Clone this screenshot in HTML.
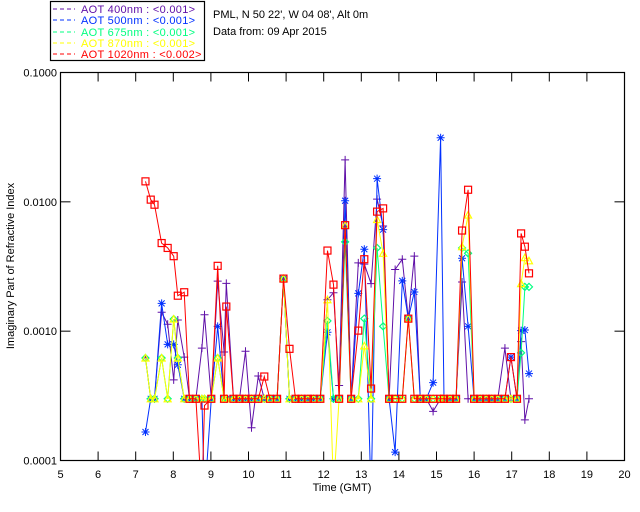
<!DOCTYPE html>
<html><head><meta charset="utf-8"><style>
html,body{margin:0;padding:0;background:#fff;}
svg{display:block;font-family:"Liberation Sans",sans-serif;}
</style></head><body>
<svg id="chart" width="640" height="512" viewBox="0 0 640 512" xmlns="http://www.w3.org/2000/svg">
<defs><clipPath id="plotclip"><rect x="60" y="72" width="565" height="388"/></clipPath></defs>
<rect x="0" y="0" width="640" height="512" fill="#fff"/>
<g>
<rect x="50.5" y="1.5" width="154" height="59" fill="none" stroke="#000" stroke-width="1.2"/>
<g font-size="11" letter-spacing="0.3">
<line x1="53" y1="9" x2="75" y2="9" stroke="#6010a8" stroke-dasharray="4,3"/><text x="81" y="13" fill="#6010a8">AOT  400nm : &lt;0.001&gt;</text>
<line x1="53" y1="20" x2="75" y2="20" stroke="#0030ff" stroke-dasharray="4,3"/><text x="81" y="24" fill="#0030ff">AOT  500nm : &lt;0.001&gt;</text>
<line x1="53" y1="32" x2="75" y2="32" stroke="#00ff80" stroke-dasharray="4,3"/><text x="81" y="36" fill="#00ff80">AOT  675nm : &lt;0.001&gt;</text>
<line x1="53" y1="43" x2="75" y2="43" stroke="#ffff00" stroke-dasharray="4,3"/><text x="81" y="47" fill="#ffff00">AOT  870nm : &lt;0.001&gt;</text>
<line x1="53" y1="54" x2="75" y2="54" stroke="#ff0000" stroke-dasharray="4,3"/><text x="81" y="58" fill="#ff0000">AOT 1020nm : &lt;0.002&gt;</text>
</g></g>
<text x="213" y="18" font-size="11" fill="#000">PML, N 50 22', W 04 08', Alt 0m</text>
<text x="213" y="35" font-size="11" fill="#000">Data from: 09 Apr 2015</text>
<rect x="60.5" y="72.5" width="564" height="388" fill="none" stroke="#000" stroke-width="1.2"/>
<g id="axes"></g>
<g id="series" clip-path="url(#plotclip)"></g>
<text x="342" y="491" font-size="11" text-anchor="middle">Time (GMT)</text>
<text transform="translate(14,266) rotate(-90)" font-size="11" text-anchor="middle">Imaginary Part of Refractive Index</text>
</svg>
<script>
const F = 0.0003;
const times = [7.26,7.40,7.50,7.69,7.85,8.01,8.12,8.29,8.43,8.60,8.76,8.83,9.01,9.18,9.35,9.41,9.60,9.76,9.92,10.08,10.26,10.42,10.57,10.76,10.93,11.09,11.25,11.41,11.58,11.73,11.91,12.10,12.26,12.41,12.57,12.73,12.92,13.08,13.26,13.42,13.58,13.74,13.90,14.09,14.25,14.41,14.57,14.73,14.91,15.11,15.20,15.36,15.52,15.68,15.84,16.00,16.16,16.32,16.47,16.63,16.82,16.98,17.14,17.25,17.35,17.46];
const aot400 = [.00062,F,F,.0014,.00113,.00042,.00122,.00063,F,F,.00074,.00134,F,.00244,.00069,.00234,F,F,.0007,.000179,.00045,F,F,F,.00255,F,F,F,F,F,F,.00175,.00198,.00038,.0211,F,.00337,.0033,.00233,.0105,.0065,F,.0030,.0036,.00125,.0038,F,F,.00024,F,F,F,F,.0024,F,F,F,F,F,F,.00074,F,F,.00083,.000206,F];
const aot500 = [.000166,F,F,.00164,.00079,.00079,.00055,F,F,F,F,.00005,F,.00109,F,F,F,F,F,F,F,F,F,F,.00255,F,F,F,F,F,F,.00098,F,F,.0102,F,.00196,.0043,.00005,.0151,.0061,F,.000116,.00245,.00125,.00201,F,F,.0004,.0313,F,F,F,.00366,.00109,F,F,F,F,F,F,.00063,F,.00101,.00102,.00047];
const aot675 = [.00062,F,F,.00062,F,.00124,.00062,F,F,F,F,F,F,.00062,F,F,F,F,F,F,F,F,F,F,.00255,F,F,F,F,F,F,.0012,F,F,.0049,F,F,.00125,F,.0044,.00109,F,F,F,.00125,F,F,F,F,F,F,F,F,.0044,.0040,F,F,F,F,F,F,F,F,.00068,.0022,.0022];
const aot870 = [.00062,F,F,.00062,F,.00124,.00062,F,F,F,F,F,F,.00062,F,F,F,F,F,F,F,F,F,F,.00255,F,F,F,F,F,F,.00175,.00006,F,.0066,F,F,.00077,F,.0073,.0040,F,F,F,.00125,F,F,F,F,F,F,F,F,.0045,.0079,F,F,F,F,F,F,F,F,.00233,.0037,.0035];
const aot1020 = [.0144,.0104,.0095,.0048,.0044,.0038,.00188,.0020,F,F,.00005,.000266,F,.0032,F,.00155,F,F,F,F,F,.000446,F,F,.00255,.00073,F,F,F,F,F,.0042,.00229,F,.0066,F,.00101,.0036,.00036,.0084,.0089,F,F,F,.00125,F,F,F,F,F,F,F,F,.0060,.0124,F,F,F,F,F,F,.00063,F,.0057,.0045,.0028];
const xTicks = [5,6,7,8,9,10,11,12,13,14,15,16,17,18,19,20];
const yTicks = [0.0001,0.001,0.01,0.1];
const yTickLabels = ["0.0001","0.0010","0.0100","0.1000"];

const X0=60.5, X1=624.5, Y0=460.5, Y1=72.5;
function xs(t){return X0+(t-5)/(20-5)*(X1-X0);}
function ys(v){return Y0-(Math.log10(v)+4)/3*(Y0-Y1);}
const NS="http://www.w3.org/2000/svg";
function mk(tag,attrs,parent){const e=document.createElementNS(NS,tag);for(const k in attrs)e.setAttribute(k,attrs[k]);parent.appendChild(e);return e;}
const axes=document.getElementById('axes');
xTicks.forEach(t=>{
  const x=xs(t);
  const a=mk('line',{x1:x,y1:Y0,x2:x,y2:Y0-9,stroke:'#000'},axes);
  
  
  const b=mk('line',{x1:x,y1:Y1,x2:x,y2:Y1+9,stroke:'#000'},axes);
  
  
  const l=mk('text',{x:x,y:478,'font-size':11,'text-anchor':'middle'},axes);
  l.textContent=t;
  
  
});
yTicks.forEach((v,i)=>{
  const y=ys(v);
  const a=mk('line',{x1:X0,y1:y,x2:X0+10,y2:y,stroke:'#000'},axes);
  
  
  const b=mk('line',{x1:X1,y1:y,x2:X1-10,y2:y,stroke:'#000'},axes);
  
  
  const l=mk('text',{x:57,y:y+4,'font-size':11,'text-anchor':'end'},axes);
  l.textContent=yTickLabels[i];
  
  
});
const sg=document.getElementById('series');
const seriesList=[
  {name:'aot-400nm',vals:aot400,color:'#6010a8',mark:'plus'},
  {name:'aot-500nm',vals:aot500,color:'#0030ff',mark:'star'},
  {name:'aot-675nm',vals:aot675,color:'#00ff80',mark:'diamond'},
  {name:'aot-870nm',vals:aot870,color:'#ffff00',mark:'tri'},
  {name:'aot-1020nm',vals:aot1020,color:'#ff0000',mark:'square'}
];
seriesList.forEach(s=>{
  const g=mk('g',{},sg);
  
  
  const pts=times.map((t,i)=>xs(t).toFixed(1)+','+ys(s.vals[i]).toFixed(1)).join(' ');
  const pl=mk('polyline',{points:pts,fill:'none',stroke:s.color,'stroke-width':1},g);
  
  
  times.forEach((t,i)=>{
    const v=s.vals[i]; if(v<0.0001) return;
    const x=xs(t), y=ys(v); let m;
    const r=3.5;
    if(s.mark==='square') m=mk('rect',{x:x-r,y:y-r,width:2*r,height:2*r,fill:'none',stroke:s.color,'stroke-width':1.2},g);
    else if(s.mark==='tri') m=mk('polygon',{points:`${x},${y-r} ${x-r},${y+3} ${x+r},${y+3}`,fill:'none',stroke:s.color,'stroke-width':1.2},g);
    else if(s.mark==='diamond') m=mk('polygon',{points:`${x},${y-r} ${x+r},${y} ${x},${y+r} ${x-r},${y}`,fill:'none',stroke:s.color,'stroke-width':1.2},g);
    else if(s.mark==='plus') m=mk('path',{d:`M${x-4},${y}H${x+4}M${x},${y-4}V${y+4}`,stroke:s.color,'stroke-width':1},g);
    else m=mk('path',{d:`M${x-4},${y}H${x+4}M${x},${y-4}V${y+4}M${x-3},${y-3}L${x+3},${y+3}M${x-3},${y+3}L${x+3},${y-3}`,stroke:s.color,'stroke-width':1},g);
    
    
  });
});
</script>
</body></html>
